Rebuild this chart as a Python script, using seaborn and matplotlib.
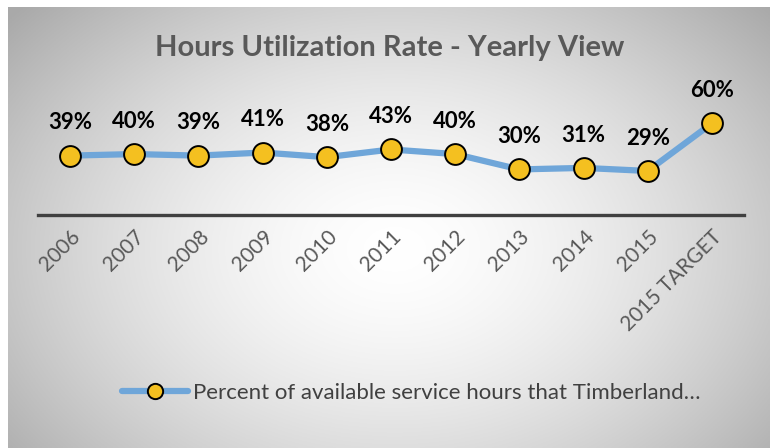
import numpy as np
import pandas as pd
import matplotlib
matplotlib.use("Agg")
import matplotlib.pyplot as plt
from matplotlib.lines import Line2D
import seaborn as sns

# Yearly hours utilization (percent)
years = ["2006", "2007", "2008", "2009", "2010", "2011", "2012",
         "2013", "2014", "2015", "2015 TARGET"]
rates = [39, 40, 39, 41, 38, 43, 40, 30, 31, 29, 60]
series_name = "Percent of available service hours that Timberland\u2026"
title_text = "Hours Utilization Rate - Yearly View"

df = pd.DataFrame({"year": years, "rate": rates})

sns.set_theme(style="white")
plt.rcParams["font.family"] = ["Lato", "DejaVu Sans"]

W, H = 770, 448
fig = plt.figure(figsize=(W / 100, H / 100), dpi=100)
fig.patch.set_facecolor("white")

# Radial grey-to-white background panel
bg = fig.add_axes([8 / W, 0, 1 - 8 / W, 1 - 7 / H])
bg.set_axis_off()
xx, yy = np.meshgrid(np.linspace(8, W, 400), np.linspace(7, H, 240))
r = np.sqrt(((xx - 395) / 420) ** 2 + ((yy - 250) / 300) ** 2)
shade = 1.0 - 0.25 * np.clip(r, 0, 1.2) ** 1.6
img = np.dstack([shade, shade, shade])
bg.imshow(img, extent=[0, 1, 0, 1], aspect="auto", origin="upper")
bg.set_zorder(0)

# Plot area
left, right = 38 / W, 744 / W
bottom, top = (H - 215.5) / H, (H - 108) / H
ax = fig.add_axes([left, bottom, right - left, top - bottom])
ax.set_zorder(1)
ax.patch.set_alpha(0)

line_color = "#6fa6d9"
marker_color = "#f4c020"

sns.lineplot(data=df, x="year", y="rate", ax=ax, color=line_color,
             linewidth=4.5, marker="o", markersize=15,
             markerfacecolor=marker_color, markeredgecolor="black",
             markeredgewidth=1.4, sort=False, label=series_name,
             legend=False)

ax.set_ylim(0, 70)
ax.set_xlim(-0.5, len(years) - 0.5)
ax.set_xlabel("")
ax.set_ylabel("")
ax.set_yticks([])
for side in ["top", "right", "left"]:
    ax.spines[side].set_visible(False)
ax.spines["bottom"].set_color("#404040")
ax.spines["bottom"].set_linewidth(2.4)
ax.tick_params(axis="x", length=0, pad=8)
ax.set_xticks(range(len(years)))
ax.set_xticklabels(years, rotation=45, ha="right", rotation_mode="anchor",
                   fontsize=15, color="#595959")

# Value labels above each point
for i, v in enumerate(rates):
    ax.annotate(f"{v}%", (i, v), xytext=(0, 16), textcoords="offset points",
                ha="center", va="bottom", fontsize=16, fontweight="bold",
                color="black", annotation_clip=False)

fig.text(390 / W, 1 - 48 / H, title_text, ha="center", va="center",
         fontsize=21, fontweight="bold", color="#595959")

handle = Line2D([], [], color=line_color, linewidth=4.5, marker="o",
                markersize=11, markerfacecolor=marker_color,
                markeredgecolor="black", markeredgewidth=1.4)
fig.legend([handle], [series_name], loc="center", frameon=False,
           bbox_to_anchor=(411 / W, 1 - 393 / H), fontsize=16,
           handlelength=3.0, handletextpad=0.2, labelcolor="#404040")

fig.savefig("out.png", dpi=100)
